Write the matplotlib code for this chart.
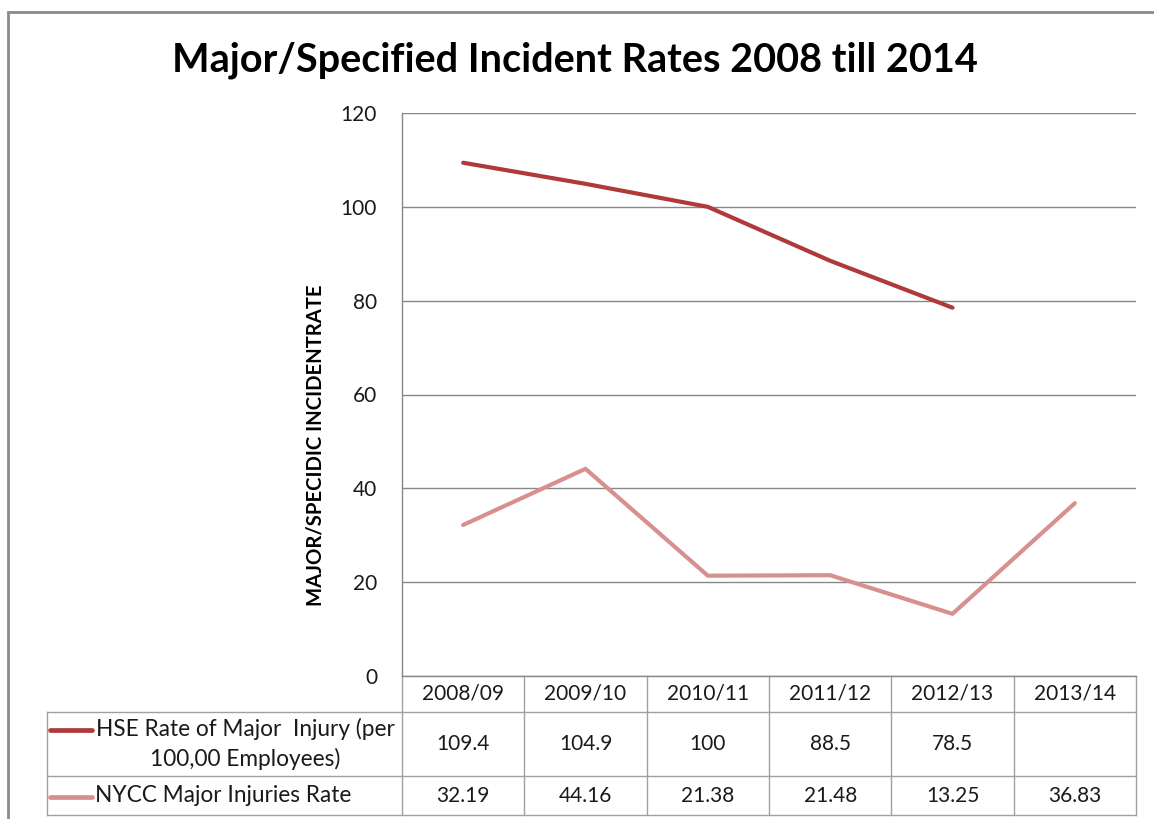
import numpy as np
import matplotlib.pyplot as plt
from matplotlib.patches import Rectangle

plt.rcParams['font.family'] = ['Lato', 'DejaVu Sans']

periods = ['2008/09', '2009/10', '2010/11', '2011/12', '2012/13', '2013/14']
hse_rate = [109.4, 104.9, 100, 88.5, 78.5, None]
nycc_rate = [32.19, 44.16, 21.38, 21.48, 13.25, 36.83]
series_names = ['HSE Rate of Major  Injury (per\n100,00 Employees)',
                'NYCC Major Injuries Rate']
series_colors = ['#b03a3a', '#d8908e']
y_ticks = [0, 20, 40, 60, 80, 100, 120]

W, H = 1154, 819
fig = plt.figure(figsize=(W / 100, H / 100), dpi=100)
ax = fig.add_axes([402 / W, 1 - 676 / H, 734 / W, 563 / H])

x = np.arange(len(periods))
series = [hse_rate, nycc_rate]
for vals, col in zip(series, series_colors):
    y = np.array([np.nan if v is None else v for v in vals], dtype=float)
    ax.plot(x, y, color=col, lw=3, solid_capstyle='round', zorder=3)

ax.set_xlim(-0.5, len(periods) - 0.5)
ax.set_ylim(0, 120)
ax.set_yticks(y_ticks)
ax.set_xticks([])
ax.yaxis.grid(True, color='#888888', lw=1)
ax.tick_params(axis='y', length=0, labelsize=15, pad=18, labelcolor='#1a1a1a')
for s in ['top', 'right']:
    ax.spines[s].set_visible(False)
for s in ['left', 'bottom']:
    ax.spines[s].set_color('#888888')
    ax.spines[s].set_linewidth(1)

# data table under the plot: x in category units, y in axes fraction
tr = ax.get_xaxis_transform()
ph = 563.0
catw = 734.0 / len(periods)
hdr_bot = -36 / ph
r1_bot = -100 / ph
r2_bot = -139 / ph
x_left = -0.5 - 355 / catw
x_right = len(periods) - 0.5
grid_kw = dict(color='#a0a0a0', lw=1, transform=tr, clip_on=False)

for yy in [hdr_bot, r1_bot, r2_bot]:
    ax.plot([x_left, x_right], [yy, yy], **grid_kw)
ax.plot([-0.5, -0.5], [0, r2_bot], **grid_kw)
ax.plot([x_left, x_left], [hdr_bot, r2_bot], **grid_kw)
for i in range(len(periods)):
    ax.plot([i + 0.5, i + 0.5], [0, r2_bot], **grid_kw)

txt_kw = dict(transform=tr, fontsize=15, color='#1a1a1a', va='center')
for i, p in enumerate(periods):
    ax.text(i, hdr_bot / 2, p, ha='center', **txt_kw)
    for vals, (top, bot) in zip(series, [(hdr_bot, r1_bot), (r1_bot, r2_bot)]):
        if vals[i] is not None:
            ax.text(i, (top + bot) / 2, f'{vals[i]:g}', ha='center', **txt_kw)

# legend keys inside the row-label column
key_x0 = -0.5 - 352 / catw
key_x1 = -0.5 - 310 / catw
ax.plot([key_x0, key_x1], [-54 / ph] * 2, color=series_colors[0], lw=3.4,
        transform=tr, clip_on=False, solid_capstyle='round')
ax.plot([key_x0, key_x1], [-121 / ph] * 2, color=series_colors[1], lw=3.4,
        transform=tr, clip_on=False, solid_capstyle='round')
lbl_kw = dict(txt_kw, fontsize=16.3)
ax.text(-0.5 - 157 / catw, (hdr_bot + r1_bot) / 2, series_names[0],
        ha='center', linespacing=1.45, **lbl_kw)
ax.text(-0.5 - 307 / catw, (r1_bot + r2_bot) / 2, series_names[1],
        ha='left', **lbl_kw)

fig.text(575 / W, 1 - 60 / H, 'Major/Specified Incident Rates 2008 till 2014',
         ha='center', va='center', fontsize=28.5, fontweight='bold', color='black')
fig.text(316 / W, 1 - 445 / H, 'MAJOR/SPECIDIC INCIDENTRATE', rotation=90,
         ha='center', va='center', fontsize=14.6, fontweight='bold', color='black')

fig.patches.append(Rectangle((8 / W, -0.1), 1.2, 1.1 - 12 / H, fill=False,
                             ec='#8a8a8a', lw=2, transform=fig.transFigure))

fig.savefig('out.png', dpi=100)
